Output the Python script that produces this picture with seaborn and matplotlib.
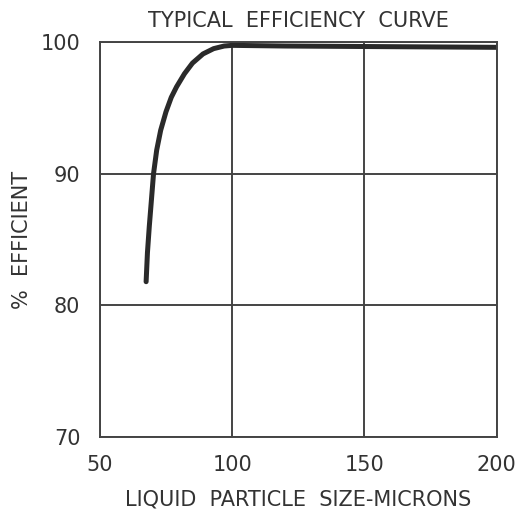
import matplotlib
matplotlib.use("Agg")
import matplotlib.pyplot as plt
import seaborn as sns
import pandas as pd

# Curve
particle_size = [67.5, 68.0, 68.7, 69.5, 70.3, 71.5, 73.0, 75.0, 77.0, 79.0, 82.0, 85.0, 89.0, 93.0, 97.0, 100.0, 120.0, 160.0, 200.0]
efficiency = [81.8, 84.0, 86.0, 88.0, 90.0, 91.8, 93.3, 94.7, 95.8, 96.6, 97.6, 98.4, 99.1, 99.5, 99.7, 99.75, 99.7, 99.65, 99.6]

x_ticks = [50, 100, 150, 200]
y_ticks = [70, 80, 90, 100]

sns.set_style("white")
text_colour = "#333333"

fig = plt.figure(figsize=(5.28, 5.13), dpi=100)
ax = fig.add_axes([0.189, 0.148, 0.752, 0.770])

df = pd.DataFrame({"size": particle_size, "eff": efficiency})
sns.lineplot(data=df, x="size", y="eff", ax=ax, color="#2a2a2a", linewidth=3.6, sort=False)

ax.set_xlim(50, 200)
ax.set_ylim(70, 100)
ax.set_xticks(x_ticks)
ax.set_yticks(y_ticks)
ax.grid(True, color="#444444", linewidth=1.4)
for spine in ax.spines.values():
    spine.set_color("#444444")
    spine.set_linewidth(1.4)

ax.tick_params(axis="both", length=0, labelsize=15, labelcolor=text_colour)
ax.tick_params(axis="y", pad=14)
ax.tick_params(axis="x", pad=13)

ax.set_xlabel("LIQUID  PARTICLE  SIZE-MICRONS", fontsize=15, color=text_colour, labelpad=10)
ax.set_ylabel("%  EFFICIENT", fontsize=15, color=text_colour, labelpad=6)
ax.set_title("TYPICAL  EFFICIENCY  CURVE", fontsize=15, color=text_colour, pad=11)

fig.savefig("out.png", dpi=100)
